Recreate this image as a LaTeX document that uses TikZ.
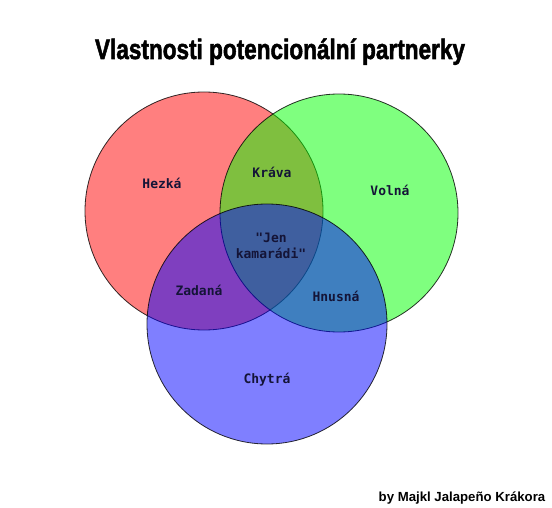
\documentclass[tikz,border=0pt]{standalone}
\usepackage{fontspec}
\usepackage{graphicx}
\newfontfamily\labelfont{DejaVu Sans Mono}
\newfontfamily\titlefont{Liberation Sans}[BoldFeatures={FakeBold=2}]
\newfontfamily\footfont{Liberation Sans}
\definecolor{labelcol}{RGB}{20,20,55}
\tikzset{
  venn/.style={circle, minimum size=238pt, inner sep=0pt, draw=black, draw opacity=0.8, line width=0.8pt, fill opacity=0.5},
  vlabel/.style={font=\labelfont\bfseries\fontsize{13}{15}\selectfont, text=labelcol, align=center, inner sep=0pt}
}
\begin{document}
\begin{tikzpicture}[x=1pt,y=-1pt]
\useasboundingbox[fill=white] (0,0) rectangle (552,508);
\node[venn, fill=red] (hezka) at (204,211) {};
\node[venn, fill=green] (volna) at (339,213) {};
\node[venn, fill=blue, minimum size=240pt] (chytra) at (267,324) {};
\node[vlabel] (lh) at (162,183) {Hezká};
\node[vlabel] (lk) at (272,172) {Kráva};
\node[vlabel] (lv) at (390,190) {Volná};
\node[vlabel] (lj) at (271,246) {"Jen\\[1pt]kamarádi"};
\node[vlabel] (lz) at (199,290) {Zadaná};
\node[vlabel] (ln) at (336,296) {Hnusná};
\node[vlabel] (lc) at (267,380) {Chytrá};
\node[anchor=base, inner sep=0pt] (title) at (280,59)
  {\resizebox{370pt}{!}{\scalebox{0.8}[1]{\titlefont\bfseries\fontsize{29}{30}\selectfont Vlastnosti potencionální partnerky}}};
\node[anchor=base, inner sep=0pt] (foot) at (462,501)
  {\footfont\bfseries\fontsize{13.2}{15}\selectfont by Majkl Jalapeño Krákora};
\end{tikzpicture}
\end{document}
